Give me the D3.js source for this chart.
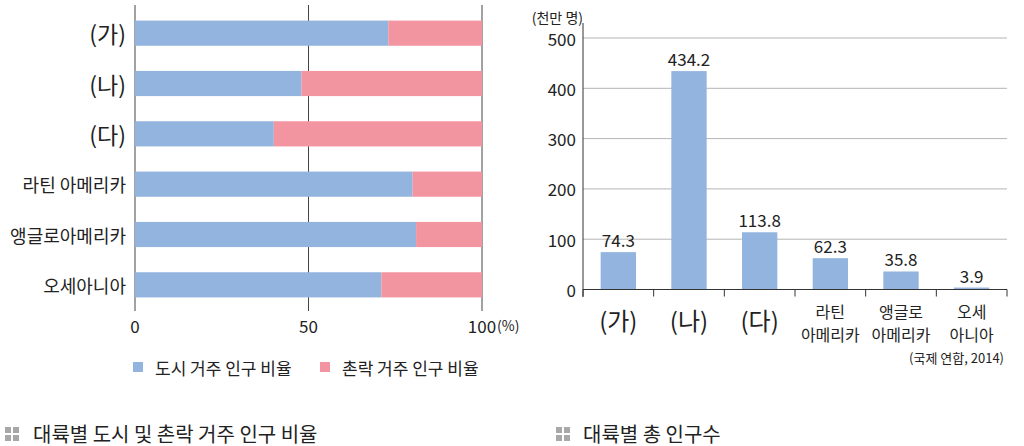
<!DOCTYPE html>
<html>
<head>
<meta charset="utf-8">
<script src="https://cdn.jsdelivr.net/npm/d3@7"></script>
<style>
  body { margin: 0; background: #fff; }
  text { font-family: "Noto Sans CJK KR", "Noto Sans", sans-serif; fill: #222; }
</style>
</head>
<body>
<div id="chart"></div>
<script>
// data
var regions = ["(가)", "(나)", "(다)", "라틴 아메리카", "앵글로아메리카", "오세아니아"];
var urbanPct = [73, 48, 40, 80, 81, 71];
var ruralPct = [27, 52, 60, 20, 19, 29];
var pctTicks = [0, 50, 100];

var popRegions = ["(가)", "(나)", "(다)", "라틴\n아메리카", "앵글로\n아메리카", "오세\n아니아"];
var population = [74.3, 434.2, 113.8, 62.3, 35.8, 3.9];
var popTicks = [0, 100, 200, 300, 400, 500];

var blue = "#93b4de", pink = "#f395a1";

var svg = d3.select("#chart").append("svg")
  .attr("width", 1024).attr("height", 446);

// ---------- left chart: urban / rural ratio ----------
var x = d3.scaleLinear().domain([0, 100]).range([135, 482]);
var y = d3.scaleBand().domain(regions).range([8, 310])
  .paddingInner(0.5).paddingOuter(0.25);

// vertical reference lines
svg.append("g").selectAll("line").data(pctTicks).join("line")
  .attr("x1", function(d) { return x(d); }).attr("x2", function(d) { return x(d); })
  .attr("y1", 5).attr("y2", 311)
  .attr("stroke", "#444").attr("stroke-width", 1);

var rows = regions.map(function(r, i) { return {name: r, urban: urbanPct[i], rural: ruralPct[i]}; });

svg.append("g").selectAll("rect").data(rows).join("rect")
  .attr("x", x(0))
  .attr("y", function(d) { return y(d.name); })
  .attr("width", function(d) { return x(d.urban) - x(0); })
  .attr("height", y.bandwidth())
  .attr("fill", blue);

svg.append("g").selectAll("rect").data(rows).join("rect")
  .attr("x", function(d) { return x(d.urban); })
  .attr("y", function(d) { return y(d.name); })
  .attr("width", function(d) { return x(d.urban + d.rural) - x(d.urban); })
  .attr("height", y.bandwidth())
  .attr("fill", pink);

// category labels
svg.append("g").selectAll("text").data(regions).join("text")
  .attr("x", 126)
  .attr("y", function(d) { return y(d) + y.bandwidth() / 2; })
  .attr("text-anchor", "end")
  .attr("dominant-baseline", "central")
  .style("font-size", function(d) { return d[0] == "(" ? "23px" : "18px"; })
  .text(function(d) { return d; });

// x tick labels
svg.append("g").selectAll("text").data(pctTicks).join("text")
  .attr("x", function(d) { return x(d); })
  .attr("y", 325)
  .attr("text-anchor", "middle")
  .attr("dominant-baseline", "central")
  .style("font-size", "17px")
  .text(function(d) { return d; });
svg.append("text").attr("x", x(100) + 15).attr("y", 325)
  .attr("dominant-baseline", "central")
  .style("font-size", "14px").text("(%)");

// legend
var legend = [{label: "도시 거주 인구 비율", color: blue, x: 133}, {label: "촌락 거주 인구 비율", color: pink, x: 320}];
var lg = svg.append("g").selectAll("g").data(legend).join("g")
  .attr("transform", function(d) { return "translate(" + d.x + ",362)"; });
lg.append("rect").attr("width", 10).attr("height", 10).attr("fill", function(d) { return d.color; });
lg.append("text").attr("x", 22).attr("y", 5).attr("dominant-baseline", "central")
  .style("font-size", "17px").text(function(d) { return d.label; });

// ---------- right chart: total population ----------
var x2 = d3.scaleBand().domain(popRegions).range([583, 1007])
  .paddingInner(0.5).paddingOuter(0.25);
var y2 = d3.scaleLinear().domain([0, 500]).range([289.5, 38]);

// gridlines
svg.append("g").selectAll("line").data(popTicks.slice(1)).join("line")
  .attr("x1", 583).attr("x2", 1007)
  .attr("y1", function(d) { return y2(d); }).attr("y2", function(d) { return y2(d); })
  .attr("stroke", "#b4b4b4").attr("stroke-width", 1);

var pop = popRegions.map(function(r, i) { return {name: r, value: population[i]}; });

svg.append("g").selectAll("rect").data(pop).join("rect")
  .attr("x", function(d) { return x2(d.name); })
  .attr("y", function(d) { return y2(d.value); })
  .attr("width", x2.bandwidth())
  .attr("height", function(d) { return y2(0) - y2(d.value); })
  .attr("fill", blue);

// value labels
svg.append("g").selectAll("text").data(pop).join("text")
  .attr("x", function(d) { return x2(d.name) + x2.bandwidth() / 2; })
  .attr("y", function(d) { return y2(d.value) - 5; })
  .attr("text-anchor", "middle")
  .style("font-size", "17px")
  .text(function(d) { return d.value.toFixed(1); });

// axes
svg.append("line").attr("x1", 583).attr("x2", 583).attr("y1", 23).attr("y2", 297)
  .attr("stroke", "#333");
svg.append("line").attr("x1", 583).attr("x2", 1007).attr("y1", y2(0)).attr("y2", y2(0))
  .attr("stroke", "#333");
var bounds = popRegions.map(function(r) { return x2(r) - x2.step() * 0.25; }).concat([1007]);
svg.append("g").selectAll("line").data(bounds).join("line")
  .attr("x1", function(d) { return d; }).attr("x2", function(d) { return d; })
  .attr("y1", y2(0)).attr("y2", y2(0) + 7)
  .attr("stroke", "#333");

svg.append("g").selectAll("text").data(popTicks).join("text")
  .attr("x", 576)
  .attr("y", function(d) { return y2(d); })
  .attr("text-anchor", "end")
  .attr("dominant-baseline", "central")
  .style("font-size", "17px")
  .text(function(d) { return d; });

svg.append("text").attr("x", 583).attr("y", 17).attr("text-anchor", "end")
  .attr("dominant-baseline", "central")
  .style("font-size", "14px").text("(천만 명)");

// x category labels: one text per line
var catLines = [];
popRegions.forEach(function(r) {
  var parts = r.split("\n");
  parts.forEach(function(p, i) {
    catLines.push({key: r, text: p, big: parts.length == 1, y: parts.length == 1 ? 319 : 311 + i * 23});
  });
});
svg.append("g").selectAll("text").data(catLines).join("text")
  .attr("x", function(d) { return x2(d.key) + x2.bandwidth() / 2; })
  .attr("y", function(d) { return d.y; })
  .attr("text-anchor", "middle")
  .attr("dominant-baseline", "central")
  .style("font-size", function(d) { return d.big ? "24px" : "16px"; })
  .text(function(d) { return d.text; });

// source
svg.append("text").attr("x", 1004).attr("y", 357).attr("text-anchor", "end")
  .attr("dominant-baseline", "central")
  .style("font-size", "13px").text("(국제 연합, 2014)");

// ---------- bottom titles ----------
function titleIcon(x0, y0) {
  var g = svg.append("g").attr("transform", "translate(" + x0 + "," + y0 + ")");
  [[0, 0], [8, 0], [0, 8], [8, 8]].forEach(function(p) {
    g.append("rect").attr("x", p[0]).attr("y", p[1]).attr("width", 6).attr("height", 6).attr("fill", "#a8a8a8");
  });
}
titleIcon(5, 427);
svg.append("text").attr("x", 33).attr("y", 433).attr("dominant-baseline", "central")
  .style("font-size", "20px").text("대륙별 도시 및 촌락 거주 인구 비율");
titleIcon(556, 427);
svg.append("text").attr("x", 583).attr("y", 433).attr("dominant-baseline", "central")
  .style("font-size", "20px").text("대륙별 총 인구수");
</script>
</body>
</html>
